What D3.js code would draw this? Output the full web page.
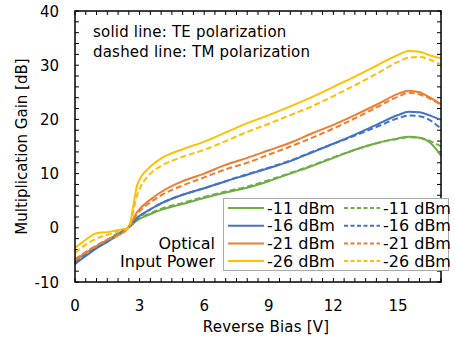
<!DOCTYPE html>
<html>
<head>
<meta charset="UTF-8">
<script src="https://d3js.org/d3.v7.min.js"></script>
<style>
  body { margin: 0; background: #fff; }
  svg { display: block; font-family: "DejaVu Sans", sans-serif; }
</style>
</head>
<body>
<div id="chart"></div>
<script>
// bias points [V]
const bias = [0, 0.5, 1, 1.5, 2, 2.47, 2.9, 3.5, 4, 5, 6, 7, 8, 9, 10, 11, 12, 13, 14, 15, 15.5, 16, 16.5, 17];

// gain [dB], TE = solid, TM = dashed
const te11 = [-6.0, -4.6, -3.4, -2.3, -1.1, 0, 1.4, 2.5, 3.3, 4.4, 5.5, 6.5, 7.4, 8.6, 10.0, 11.4, 12.9, 14.4, 15.6, 16.5, 16.8, 16.6, 15.7, 13.3];
const tm11 = [-5.8, -4.5, -3.3, -2.2, -1.0, 0, 1.5, 2.7, 3.5, 4.6, 5.7, 6.7, 7.6, 8.8, 10.1, 11.5, 13.0, 14.4, 15.6, 16.4, 16.7, 16.6, 16.0, 15.0];
const te16 = [-6.7, -5.2, -3.8, -2.6, -1.3, 0, 1.9, 3.4, 4.5, 6.1, 7.3, 8.6, 9.8, 11.0, 12.3, 13.9, 15.5, 17.2, 19.0, 20.8, 21.4, 21.3, 20.7, 19.9];
const tm16 = [-6.5, -5.0, -3.7, -2.5, -1.2, 0, 1.8, 3.4, 4.5, 6.1, 7.3, 8.6, 9.9, 11.1, 12.4, 14.0, 15.5, 17.0, 18.6, 20.2, 20.7, 20.6, 19.8, 18.3];
const te21 = [-6.3, -4.7, -3.4, -2.3, -1.4, 0, 3.0, 5.2, 6.6, 8.6, 10.0, 11.6, 12.9, 14.3, 15.7, 17.4, 19.0, 20.8, 22.7, 24.7, 25.3, 25.0, 24.0, 22.8];
const tm21 = [-6.0, -4.5, -3.3, -2.2, -1.3, 0, 2.6, 4.7, 6.0, 7.8, 9.3, 10.8, 12.0, 13.5, 15.0, 16.6, 18.3, 20.2, 22.2, 24.2, 24.9, 24.6, 23.8, 22.7];
const te26 = [-3.7, -2.2, -1.0, -0.8, -0.4, 0, 8.0, 11.3, 12.8, 14.5, 15.9, 17.6, 19.3, 20.8, 22.4, 24.1, 26.0, 27.9, 29.9, 31.9, 32.6, 32.5, 31.8, 31.3];
const tm26 = [-4.6, -3.1, -2.0, -1.3, -0.6, 0, 6.2, 10.0, 11.4, 13.1, 14.4, 16.0, 17.7, 19.2, 20.8, 22.4, 24.3, 26.3, 28.4, 30.6, 31.4, 31.5, 31.0, 30.1];

const powers = ["-11 dBm", "-16 dBm", "-21 dBm", "-26 dBm"];
const colors = ["#70AD47", "#4472C4", "#ED7D31", "#FFC000"];
const xTicks = [0, 3, 6, 9, 12, 15];
const yTicks = [-10, 0, 10, 20, 30, 40];

const series = [
  { name: powers[0], c: colors[0], dash: false, v: te11 },
  { name: powers[1], c: colors[1], dash: false, v: te16 },
  { name: powers[2], c: colors[2], dash: false, v: te21 },
  { name: powers[3], c: colors[3], dash: false, v: te26 },
  { name: powers[0], c: colors[0], dash: true, v: tm11 },
  { name: powers[1], c: colors[1], dash: true, v: tm16 },
  { name: powers[2], c: colors[2], dash: true, v: tm21 },
  { name: powers[3], c: colors[3], dash: true, v: tm26 }
];

const W = 455, H = 337;
const m = { left: 75, right: 14, top: 11, bottom: 55 };

const svg = d3.select('#chart').append('svg')
  .attr('width', W).attr('height', H);

const x = d3.scaleLinear().domain([0, 17]).range([m.left, W - m.right]);
const y = d3.scaleLinear().domain([-10, 40]).range([H - m.bottom, m.top]);

// minor ticks, inward on all four sides
const g = svg.append('g');
const xMinor = d3.range(0, 17.01, 0.5);
const yMinor = d3.range(-10, 40.01, 2);
g.selectAll('.tb').data(xMinor).enter().append('line')
  .attr('x1', d => x(d)).attr('x2', d => x(d))
  .attr('y1', y(-10)).attr('y2', y(-10) - 4)
  .attr('stroke', '#000').attr('stroke-width', 1);
g.selectAll('.tt').data(xMinor).enter().append('line')
  .attr('x1', d => x(d)).attr('x2', d => x(d))
  .attr('y1', y(40)).attr('y2', y(40) + 4)
  .attr('stroke', '#000').attr('stroke-width', 1);
g.selectAll('.tl').data(yMinor).enter().append('line')
  .attr('x1', x(0)).attr('x2', x(0) + 4)
  .attr('y1', d => y(d)).attr('y2', d => y(d))
  .attr('stroke', '#000').attr('stroke-width', 1);
g.selectAll('.tr').data(yMinor).enter().append('line')
  .attr('x1', x(17)).attr('x2', x(17) - 4)
  .attr('y1', d => y(d)).attr('y2', d => y(d))
  .attr('stroke', '#000').attr('stroke-width', 1);

// tick labels
svg.append('g').selectAll('text').data(xTicks).enter().append('text')
  .attr('x', d => x(d)).attr('y', 311)
  .attr('text-anchor', 'middle').attr('font-size', 15)
  .text(d => d);
svg.append('g').selectAll('text').data(yTicks).enter().append('text')
  .attr('x', 59).attr('y', d => y(d) + 5.5)
  .attr('text-anchor', 'end').attr('font-size', 15)
  .text(d => d);

// axis titles
svg.append('text').attr('x', 266).attr('y', 332)
  .attr('text-anchor', 'middle').attr('font-size', 15)
  .attr('letter-spacing', 0.2)
  .text('Reverse Bias [V]');
svg.append('text')
  .attr('transform', `translate(27,${(y(-10) + y(40)) / 2}) rotate(-90)`)
  .attr('text-anchor', 'middle').attr('font-size', 15)
  .text('Multiplication Gain [dB]');

// curves
const line = d3.line()
  .x((d, i) => x(bias[i]))
  .y(d => y(d))
  .curve(d3.curveMonotoneX);

svg.append('g').selectAll('path').data(series).enter().append('path')
  .attr('d', d => line(d.v))
  .attr('fill', 'none')
  .attr('stroke', d => d.c)
  .attr('stroke-width', 2)
  .attr('stroke-dasharray', d => d.dash ? '6,3' : null);

// frame
svg.append('rect')
  .attr('x', x(0)).attr('y', y(40))
  .attr('width', x(17) - x(0)).attr('height', y(-10) - y(40))
  .attr('fill', 'none').attr('stroke', '#000').attr('stroke-width', 1.5);

// notes
svg.append('text').attr('x', 93).attr('y', 37).attr('font-size', 15)
  .attr('letter-spacing', 0.2)
  .text('solid line: TE polarization');
svg.append('text').attr('x', 93).attr('y', 57).attr('font-size', 15)
  .attr('letter-spacing', 0.2)
  .text('dashed line: TM polarization');
svg.append('text').attr('x', 215).attr('y', 249).attr('font-size', 16)
  .attr('text-anchor', 'end').text('Optical');
svg.append('text').attr('x', 215).attr('y', 267).attr('font-size', 16)
  .attr('text-anchor', 'end').text('Input Power');

// legend
const lg = svg.append('g');
lg.append('rect').attr('x', 223.5).attr('y', 198.5)
  .attr('width', 225).attr('height', 72)
  .attr('fill', '#fff').attr('stroke', '#aaa').attr('stroke-width', 1);
const rows = lg.selectAll('g').data(series).enter().append('g')
  .attr('transform', (d, i) => `translate(${d.dash ? 344 : 228},${208 + (i % 4) * 17.7})`);
rows.append('line')
  .attr('x1', 0).attr('x2', 36).attr('y1', 0).attr('y2', 0)
  .attr('stroke', d => d.c).attr('stroke-width', 2)
  .attr('stroke-dasharray', d => d.dash ? '4,2.5' : null);
rows.append('text').attr('x', 39).attr('y', 5.5).attr('font-size', 16)
  .text(d => d.name);
</script>
</body>
</html>
